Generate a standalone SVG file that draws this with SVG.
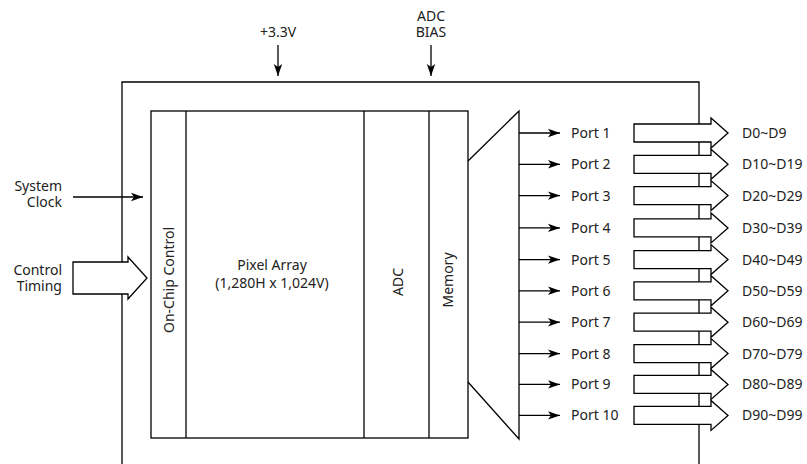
<svg xmlns="http://www.w3.org/2000/svg" width="807" height="464" viewBox="0 0 807 464">
<defs>
<style>
.ln{fill:none;stroke:#000;stroke-width:1.3}
.box{fill:#fff;stroke:#000;stroke-width:1.3}
.fat{fill:#fff;stroke:#000;stroke-width:1.3;stroke-linejoin:miter}
text{font-family:"Noto Sans","Open Sans","DejaVu Sans",sans-serif;font-size:14px;fill:#222}
.r{text-anchor:end}
.m{text-anchor:middle}
</style>
<marker id="ah" markerUnits="userSpaceOnUse" markerWidth="13" markerHeight="10" refX="12" refY="5" orient="auto">
<path d="M0,0.8 L12,5 L0,9.2 L3,5 Z" fill="#000"/>
</marker>
</defs>
<rect width="807" height="464" fill="#fff"/>
<g id="package">
<path class="ln" d="M122,464 V82 H699 V464"/>
</g>
<g id="sensor">
<rect class="box" x="151" y="111" width="317" height="327"/>
<line class="ln" x1="186" y1="111" x2="186" y2="438"/>
<line class="ln" x1="364" y1="111" x2="364" y2="438"/>
<line class="ln" x1="429" y1="111" x2="429" y2="438"/>
</g>
<g id="on-chip-control"><text class="m" transform="translate(173.5,280) rotate(-90)">On-Chip Control</text></g>
<g id="pixel-array"><text class="m" x="272" y="270">Pixel Array</text><text class="m" x="272" y="288">(1,280H x 1,024V)</text></g>
<g id="adc"><text class="m" transform="translate(403,282) rotate(-90)">ADC</text></g>
<g id="memory"><text class="m" transform="translate(453,280) rotate(-90)">Memory</text></g>
<g id="mux"><path class="ln" d="M468,161 L519,111 V439 L468,382"/></g>
<g id="inputs">
<text class="m" x="278" y="37">+3.3V</text>
<text class="m" x="431" y="21">ADC</text>
<text class="m" x="431" y="37">BIAS</text>
<text class="r" x="62" y="191">System</text>
<text class="r" x="62" y="207">Clock</text>
<text class="r" x="62" y="275">Control</text>
<text class="r" x="62" y="291">Timing</text>
<polygon class="fat" points="73,262 128,262 128,257 147,278 128,299 128,294 73,294"/>
</g>
<g id="connectors">
<line class="ln" x1="278" y1="45" x2="278" y2="76" marker-end="url(#ah)"/>
<line class="ln" x1="431" y1="45" x2="431" y2="76" marker-end="url(#ah)"/>
<line class="ln" x1="73" y1="197" x2="143" y2="197" marker-end="url(#ah)"/>
<line class="ln" x1="519" y1="133" x2="560" y2="133" marker-end="url(#ah)"/>
<line class="ln" x1="519" y1="164.3" x2="560" y2="164.3" marker-end="url(#ah)"/>
<line class="ln" x1="519" y1="195.6" x2="560" y2="195.6" marker-end="url(#ah)"/>
<line class="ln" x1="519" y1="227.9" x2="560" y2="227.9" marker-end="url(#ah)"/>
<line class="ln" x1="519" y1="259.6" x2="560" y2="259.6" marker-end="url(#ah)"/>
<line class="ln" x1="519" y1="290.8" x2="560" y2="290.8" marker-end="url(#ah)"/>
<line class="ln" x1="519" y1="322.2" x2="560" y2="322.2" marker-end="url(#ah)"/>
<line class="ln" x1="519" y1="353.6" x2="560" y2="353.6" marker-end="url(#ah)"/>
<line class="ln" x1="519" y1="384.4" x2="560" y2="384.4" marker-end="url(#ah)"/>
<line class="ln" x1="519" y1="415.4" x2="560" y2="415.4" marker-end="url(#ah)"/>
</g>
<g id="port1"><text x="571" y="138">Port 1</text><polygon class="fat" points="634,124 711,124 711,118 728,133 711,148 711,142 634,142"/><text x="742" y="138">D0~D9</text></g>
<g id="port2"><text x="571" y="169.3">Port 2</text><polygon class="fat" points="634,155.3 711,155.3 711,149.3 728,164.3 711,179.3 711,173.3 634,173.3"/><text x="742" y="169.3">D10~D19</text></g>
<g id="port3"><text x="571" y="200.6">Port 3</text><polygon class="fat" points="634,186.6 711,186.6 711,180.6 728,195.6 711,210.6 711,204.6 634,204.6"/><text x="742" y="200.6">D20~D29</text></g>
<g id="port4"><text x="571" y="232.9">Port 4</text><polygon class="fat" points="634,218.9 711,218.9 711,212.9 728,227.9 711,242.9 711,236.9 634,236.9"/><text x="742" y="232.9">D30~D39</text></g>
<g id="port5"><text x="571" y="264.6">Port 5</text><polygon class="fat" points="634,250.6 711,250.6 711,244.6 728,259.6 711,274.6 711,268.6 634,268.6"/><text x="742" y="264.6">D40~D49</text></g>
<g id="port6"><text x="571" y="295.8">Port 6</text><polygon class="fat" points="634,281.8 711,281.8 711,275.8 728,290.8 711,305.8 711,299.8 634,299.8"/><text x="742" y="295.8">D50~D59</text></g>
<g id="port7"><text x="571" y="327.2">Port 7</text><polygon class="fat" points="634,313.2 711,313.2 711,307.2 728,322.2 711,337.2 711,331.2 634,331.2"/><text x="742" y="327.2">D60~D69</text></g>
<g id="port8"><text x="571" y="358.6">Port 8</text><polygon class="fat" points="634,344.6 711,344.6 711,338.6 728,353.6 711,368.6 711,362.6 634,362.6"/><text x="742" y="358.6">D70~D79</text></g>
<g id="port9"><text x="571" y="389.4">Port 9</text><polygon class="fat" points="634,375.4 711,375.4 711,369.4 728,384.4 711,399.4 711,393.4 634,393.4"/><text x="742" y="389.4">D80~D89</text></g>
<g id="port10"><text x="571" y="420.4">Port 10</text><polygon class="fat" points="634,406.4 711,406.4 711,400.4 728,415.4 711,430.4 711,424.4 634,424.4"/><text x="742" y="420.4">D90~D99</text></g>
</svg>
